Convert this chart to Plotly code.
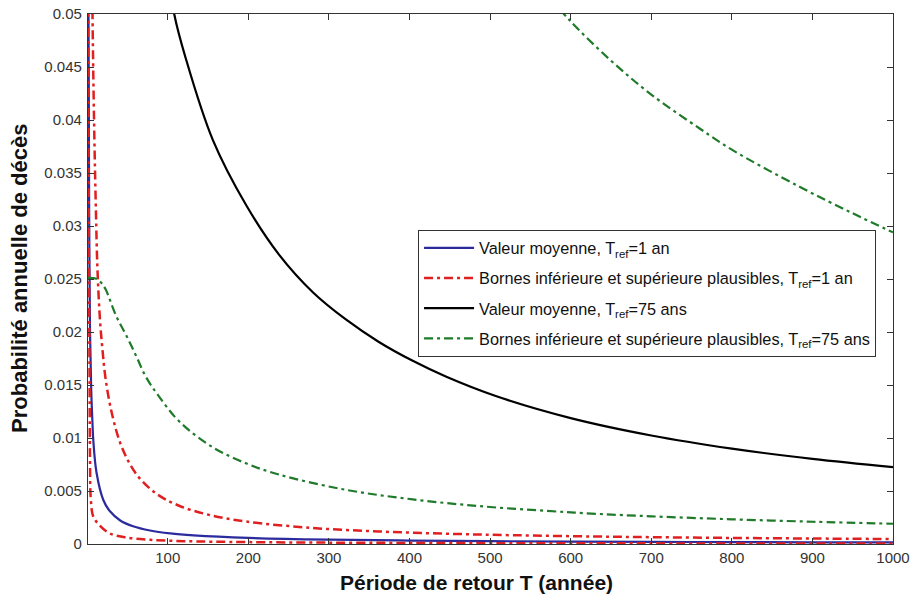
import plotly.graph_objects as go

# Tref = 1 an : valeur moyenne
t_blue = [1.3, 1.6, 2.0, 2.5, 3.5, 5, 6.5, 7.5, 11.6, 20, 28, 41, 57, 78, 103, 132, 200, 300, 400, 500, 600, 700, 800, 900, 1000]
p_blue = [0.065, 0.05, 0.042, 0.03, 0.02, 0.0145, 0.0115, 0.00987, 0.00672, 0.00415, 0.00311, 0.00222, 0.00167, 0.00127, 0.001, 0.00082, 0.00058, 0.000413, 0.000325, 0.000268, 0.000228, 0.0002, 0.000178, 0.00016, 0.000146]

# Tref = 1 an : borne supérieure plausible
t_red_up = [6.0, 6.6, 8.5, 10.8, 12.8, 16, 19, 23, 31, 43, 61, 86, 114, 150, 197, 280, 362, 445, 528, 631, 700, 800, 900, 1000]
p_red_up = [0.056, 0.05, 0.04, 0.0315, 0.0258, 0.021, 0.0183, 0.0155, 0.0122, 0.00914, 0.00659, 0.00474, 0.00361, 0.00277, 0.00212, 0.00151, 0.00118, 0.000973, 0.00083, 0.000705, 0.000643, 0.000571, 0.000516, 0.00047]

# Tref = 1 an : borne inférieure plausible
t_red_lo = [1.0, 1.2, 2.0, 3.0, 3.5, 4.5, 7.5, 15, 28, 48, 78, 120, 200, 400, 700, 1000]
p_red_lo = [0.06, 0.05, 0.03, 0.015, 0.008, 0.0042, 0.0026, 0.0018, 0.001, 0.00062, 0.0004, 0.00027, 0.00018, 0.0001, 0.00006, 0.000045]

# Tref = 75 ans : valeur moyenne
t_black = [100, 108, 122, 156, 197, 238, 280, 321, 362, 404, 445, 507, 600, 700, 800, 900, 1000]
p_black = [0.0545, 0.05, 0.0459, 0.0381, 0.032, 0.0273, 0.02375, 0.02118, 0.01906, 0.01728, 0.0158, 0.01396, 0.01188, 0.01024, 0.009, 0.00803, 0.00725]

# Tref = 75 ans : borne supérieure plausible
t_green_up = [570, 600, 650, 700, 760, 800, 884, 950, 1000]
p_green_up = [0.0519, 0.0493, 0.0456, 0.0424, 0.0392, 0.0372, 0.0337, 0.0312, 0.0294]

# Tref = 75 ans : borne inférieure plausible
t_green_lo = [1, 12, 18, 23, 36, 49, 61, 73, 89, 114, 155, 197, 238, 321, 404, 487, 569, 631, 700, 800, 900, 1000]
p_green_lo = [0.0251, 0.025, 0.0246, 0.024, 0.0215, 0.0196, 0.0177, 0.01575, 0.01393, 0.01158, 0.00916, 0.00761, 0.00655, 0.00511, 0.00421, 0.00357, 0.00313, 0.00285, 0.00261, 0.00233, 0.0021, 0.00191]

x_ticks = [100, 200, 300, 400, 500, 600, 700, 800, 900, 1000]
y_ticks = [0, 0.005, 0.01, 0.015, 0.02, 0.025, 0.03, 0.035, 0.04, 0.045, 0.05]
y_ticktext = ["0", "0.005", "0.01", "0.015", "0.02", "0.025", "0.03", "0.035", "0.04", "0.045", "0.05"]

FONT = "Liberation Sans, Arial, sans-serif"
BLUE = "#2b2b9e"
RED = "#e02020"
BLACK = "#000000"
GREEN = "#1f7a2a"
DASHDOT = "9px,4px,3px,4px"
SM = 1.0

fig = go.Figure()
fig.add_trace(go.Scatter(x=t_blue, y=p_blue, mode="lines", name="Valeur moyenne, T<sub>ref</sub>=1 an",
                         line=dict(color=BLUE, width=2.2, shape="spline", smoothing=SM), legendgroup="a"))
fig.add_trace(go.Scatter(x=t_red_up, y=p_red_up, mode="lines",
                         name="Bornes inférieure et supérieure plausibles, T<sub>ref</sub>=1 an",
                         line=dict(color=RED, width=2.5, dash=DASHDOT, shape="spline", smoothing=SM), legendgroup="b"))
fig.add_trace(go.Scatter(x=t_red_lo, y=p_red_lo, mode="lines", showlegend=False,
                         line=dict(color=RED, width=2.5, dash=DASHDOT, shape="spline", smoothing=SM), legendgroup="b"))
fig.add_trace(go.Scatter(x=t_black, y=p_black, mode="lines", name="Valeur moyenne, T<sub>ref</sub>=75 ans",
                         line=dict(color=BLACK, width=2.2, shape="spline", smoothing=SM), legendgroup="c"))
fig.add_trace(go.Scatter(x=t_green_up, y=p_green_up, mode="lines",
                         name="Bornes inférieure et supérieure plausibles, T<sub>ref</sub>=75 ans",
                         line=dict(color=GREEN, width=2.2, dash=DASHDOT, shape="spline", smoothing=SM), legendgroup="d"))
fig.add_trace(go.Scatter(x=t_green_lo, y=p_green_lo, mode="lines", showlegend=False,
                         line=dict(color=GREEN, width=2.2, dash=DASHDOT, shape="spline", smoothing=SM), legendgroup="d"))

axis_common = dict(showgrid=False, zeroline=False, showline=True, linecolor="#333333", linewidth=1.2,
                   mirror="ticks", ticks="inside", ticklen=6, tickcolor="#333333", automargin=False,
                   tickfont=dict(family=FONT, size=15, color="#333333"))

fig.update_xaxes(range=[1, 1000], tickvals=x_ticks, **axis_common)
fig.update_yaxes(range=[0, 0.05], tickvals=y_ticks, ticktext=y_ticktext, ticklabelstandoff=2, **axis_common)

fig.add_annotation(text="<b>Période de retour T (année)</b>", xref="paper", yref="paper",
                   x=0.482, y=-0.0717, xanchor="center", yanchor="middle", showarrow=False,
                   font=dict(family=FONT, size=21, color="#111111"))
fig.add_annotation(text="<b>Probabilité annuelle de décès</b>", xref="paper", yref="paper",
                   x=-0.0845, y=0.502, xanchor="center", yanchor="middle", showarrow=False, textangle=-90,
                   font=dict(family=FONT, size=22, color="#111111"))

fig.update_layout(
    width=914, height=601,
    margin=dict(l=88, r=21, t=14, b=57),
    paper_bgcolor="white", plot_bgcolor="white",
    showlegend=True,
    legend=dict(x=0.41, y=0.593, xanchor="left", yanchor="top",
                bgcolor="white", bordercolor="#333333", borderwidth=1,
                font=dict(family=FONT, size=16.3, color="#111111"),
                tracegroupgap=6, itemwidth=50),
)

fig.write_html("out.html", config={"displayModeBar": False},
               post_script="document.body.style.margin='0';document.body.style.overflow='hidden';")
